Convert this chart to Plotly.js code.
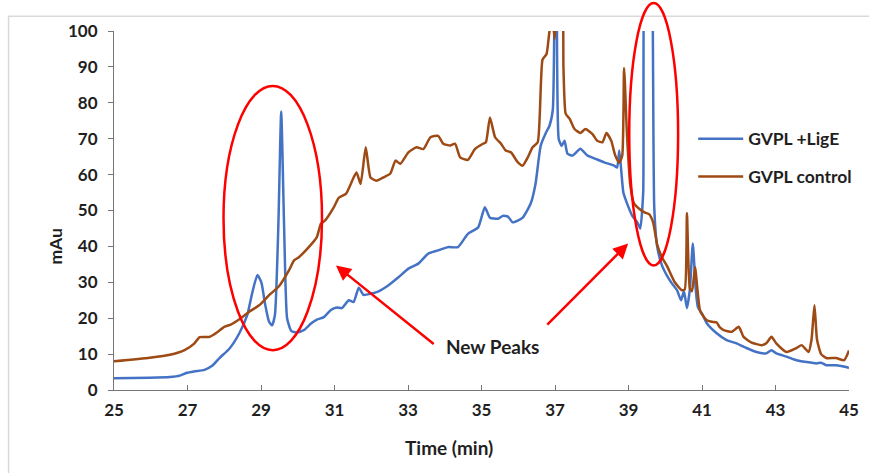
<!DOCTYPE html>
<html>
<head>
<meta charset="utf-8">
<script src="https://cdn.plot.ly/plotly-3.0.1.min.js"></script>
<style>html,body{margin:0;padding:0;background:#fff;}#chart{width:869px;height:473px;}</style>
</head>
<body>
<div id="chart"></div>
<script>
// GVPL +LigE (blue)
var ligeTime = [25.00,25.97,26.52,26.79,26.98,27.19,27.46,27.68,27.87,28.14,28.41,28.63,28.76,28.90,29.01,29.11,29.22,29.30,29.38,29.47,29.55,29.63,29.71,29.82,29.98,30.17,30.36,30.52,30.71,30.90,31.06,31.20,31.39,31.52,31.66,31.79,31.98,32.20,32.47,32.74,33.01,33.28,33.55,33.82,34.09,34.36,34.63,34.91,35.09,35.23,35.45,35.58,35.72,35.85,36.12,36.34,36.47,36.61,36.75,36.85,36.94,36.99,37.04,37.10,37.18,37.26,37.34,37.48,37.69,37.88,38.10,38.34,38.61,38.69,38.75,38.86,38.96,39.10,39.24,39.32,39.40,39.48,39.56,39.64,39.70,39.78,39.91,40.05,40.18,40.32,40.43,40.51,40.59,40.67,40.75,40.83,40.89,41.00,41.13,41.40,41.67,41.94,42.21,42.48,42.75,42.89,43.02,43.30,43.57,43.84,44.11,44.24,44.38,44.65,44.92,45.00];
var ligeValue = [3.3,3.4,3.6,4.0,4.8,5.2,5.6,6.8,8.9,11.5,15.8,21,27,32,30,24,19,18,21,45,77.6,45,20,16.5,16,16.7,18.5,19.6,20.3,22.3,23,22.8,25,24.5,28.5,26.5,26.8,27.5,29.2,31.4,33.8,35.2,38,38.9,39.8,39.8,43.5,45.3,50.9,48,47.7,48.5,48.3,46.7,48,52,57.4,68,71.6,73.6,78,110,130,70,68,69.4,65.8,65.3,67.2,65.3,64.4,63.4,62.5,62,66.7,55,52,48.6,46.7,45,55,130,130,120,51,40,34.7,31.8,29.7,27.8,25,27.5,22.8,28,40.8,28,23,21.3,18.6,15.8,13.9,13,11.7,10.6,10.2,11.1,10.2,9.3,8.3,7.8,7.4,7.6,6.9,6.9,6.4,6.1];

// GVPL control (brown)
var ctrlTime = [25.00,25.97,26.52,26.92,27.19,27.33,27.60,27.81,28.00,28.19,28.41,28.68,28.95,29.22,29.49,29.76,29.90,30.03,30.30,30.52,30.63,30.74,30.98,31.12,31.31,31.52,31.60,31.71,31.85,31.98,32.14,32.33,32.52,32.66,32.79,33.01,33.23,33.42,33.61,33.82,33.96,34.15,34.28,34.42,34.63,34.82,35.04,35.12,35.23,35.37,35.53,35.66,35.80,35.99,36.12,36.26,36.39,36.53,36.66,36.77,36.85,36.93,36.99,37.07,37.18,37.23,37.29,37.40,37.53,37.69,37.83,38.02,38.15,38.29,38.40,38.53,38.64,38.75,38.83,38.88,38.96,39.05,39.15,39.29,39.45,39.56,39.67,39.78,39.91,40.05,40.26,40.45,40.53,40.59,40.67,40.73,40.81,40.95,41.13,41.27,41.40,41.48,41.59,41.81,42.00,42.13,42.35,42.62,42.75,42.89,43.02,43.30,43.57,43.71,43.90,43.98,44.06,44.13,44.24,44.38,44.65,44.87,45.00];
var ctrlValue = [8.0,9.0,9.8,11.1,13,14.7,14.8,16.1,17.6,18.3,19.7,21.8,23.6,26.4,28.9,33.3,36.1,37,39.8,42.6,46.3,47.2,50.9,53.6,54.6,59.2,60.6,57.4,67.6,59.2,58.3,59.2,60.3,63.9,63,66.2,67.6,67.1,70.4,70.8,68.6,68.1,68.6,64.8,64.1,67.1,68.6,69,75.9,70.4,68.6,66.7,66.2,63.4,62.5,64.8,67.6,69,92,93.6,100,104,97.8,110,110,90,77,75.5,72.7,71.6,72.7,71.3,69.4,69,71.6,69.4,65.3,63.3,65.3,89.7,70.8,57,52,50.5,49.4,49,46.7,40.5,37,34.5,30,27.8,28,49.3,28.3,27.5,34.2,22,19.4,19,18.8,17.5,16.7,16.2,17.6,14.8,13.2,12.5,13,14.8,13,10.6,11.7,12.5,10.6,14,23.6,14,10,8.9,8.9,8.3,11];

var seriesNames = ['GVPL +LigE', 'GVPL control'];
var xTicks = [25,27,29,31,33,35,37,39,41,43,45];
var yTicks = [0,10,20,30,40,50,60,70,80,90,100];

function f(size) {
  return {family: 'Lato, "Open Sans", sans-serif', size: size, color: '#1f1f1f', weight: 'bold'};
}

var traces = [
  {x: ligeTime, y: ligeValue, name: seriesNames[0], type: 'scatter', mode: 'lines', legendgroup: 'a',
   line: {color: '#4472C4', width: 2.5, shape: 'spline', smoothing: 0.5}},
  {x: ctrlTime, y: ctrlValue, name: seriesNames[1], type: 'scatter', mode: 'lines', legendgroup: 'b',
   line: {color: '#9E4A14', width: 2.5, shape: 'spline', smoothing: 0.5}}
];

var layout = {
  width: 869, height: 473,
  margin: {l: 114, r: 16, t: 31, b: 83},
  paper_bgcolor: '#ffffff', plot_bgcolor: '#ffffff',
  showlegend: true,
  legend: {x: 0.788, y: 0.75, xanchor: 'left', yanchor: 'top', font: f(17.5),
           bgcolor: 'rgba(0,0,0,0)', itemwidth: 45, tracegroupgap: 12, traceorder: 'grouped'},
  xaxis: {range: [25, 45], tickvals: xTicks, ticktext: xTicks.map(String),
          showline: true, linecolor: '#767676', linewidth: 1, ticks: 'inside', ticklen: 5,
          tickcolor: '#767676', showgrid: false, zeroline: false, tickfont: f(17),
          ticklabelstandoff: 5, fixedrange: true},
  yaxis: {range: [0, 100], tickvals: yTicks, ticktext: yTicks.map(String),
          showline: true, linecolor: '#767676', linewidth: 1, ticks: 'outside', ticklen: 5,
          tickcolor: '#767676', showgrid: false, zeroline: false, tickfont: f(17),
          ticklabelstandoff: 7, fixedrange: true},
  shapes: [
    {type: 'rect', xref: 'paper', yref: 'paper', x0: -0.1434, x1: 1.1, y0: -0.3, y1: 1.0409,
     line: {color: '#d9d9d9', width: 1.5}, fillcolor: 'rgba(0,0,0,0)', layer: 'below'},
    {type: 'circle', xref: 'x', yref: 'paper', x0: 27.98, x1: 30.66, y0: 0.111, y1: 0.847,
     line: {color: '#FF0000', width: 2.5}},
    {type: 'circle', xref: 'x', yref: 'paper', x0: 39.02, x1: 40.35, y0: 0.347, y1: 1.078,
     line: {color: '#FF0000', width: 2.5}}
  ],
  annotations: [
    {x: 31.04, y: 34.7, ax: 33.74, ay: 12.5, axref: 'x', ayref: 'y', xref: 'x', yref: 'y',
     showarrow: true, arrowhead: 2, arrowsize: 1.2, arrowwidth: 2.5, arrowcolor: '#FF0000', text: ''},
    {x: 38.99, y: 40.8, ax: 36.75, ay: 17.8, axref: 'x', ayref: 'y', xref: 'x', yref: 'y',
     showarrow: true, arrowhead: 2, arrowsize: 1.2, arrowwidth: 2.5, arrowcolor: '#FF0000', text: ''},
    {x: 35.3, y: 12.0, xref: 'x', yref: 'y', text: 'New Peaks', showarrow: false, font: f(19)},
    {x: 0.456, y: -0.198, xref: 'paper', yref: 'paper', text: 'Time (min)', showarrow: false, font: f(19)},
    {x: -0.097, y: 0.40, xref: 'paper', yref: 'paper', text: 'mAu', showarrow: false,
     textangle: -90, font: f(17.5)}
  ]
};

Plotly.newPlot('chart', traces, layout, {displayModeBar: false, staticPlot: true});
</script>
</body>
</html>
